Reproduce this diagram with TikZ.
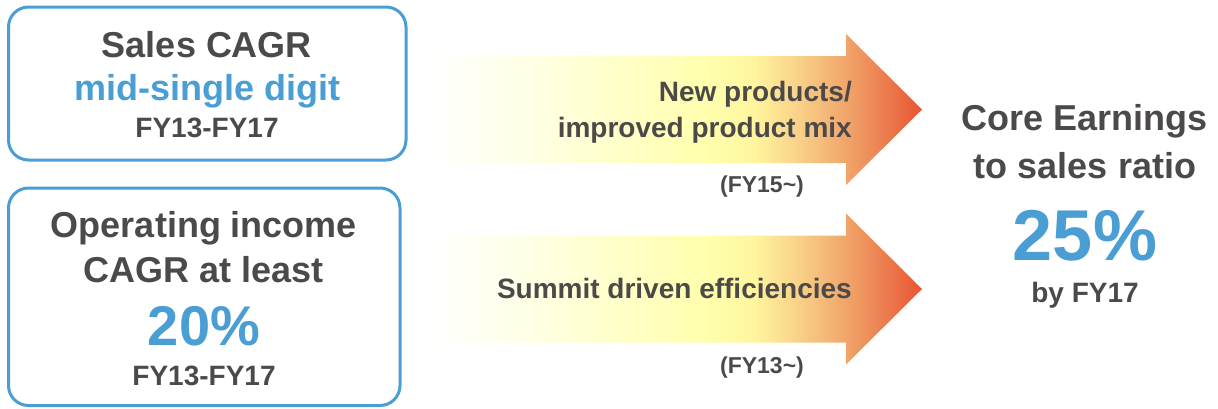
\documentclass[tikz,border=0pt]{standalone}
\usepackage{fontspec}
\setmainfont{Liberation Sans}
\usetikzlibrary{positioning}
\definecolor{txtgray}{RGB}{76,73,73}
\definecolor{kpiblue}{RGB}{75,158,211}
\pgfdeclarehorizontalshading{growth}{100bp}{rgb(0bp)=(1,1,1); rgb(25bp)=(1,1,1); rgb(35bp)=(1,1,0.9); rgb(53bp)=(1,1,0.68); rgb(58bp)=(1,0.96,0.62); rgb(63bp)=(0.97,0.80,0.52); rgb(68bp)=(0.94,0.62,0.40); rgb(75bp)=(0.91,0.33,0.20); rgb(100bp)=(0.91,0.33,0.20)}

\begin{document}
\begin{tikzpicture}[
    x=1pt, y=-1pt,
    goalbox/.style={draw=kpiblue, line width=3pt, rounded corners=20pt},
    growarrow/.style={shading=growth, draw=none},
    txt/.style={text=txtgray, font=\bfseries\fontsize{#1}{#1}\selectfont, inner sep=0pt, anchor=base},
    txt/.default=36,
    kpi/.style={text=kpiblue, font=\bfseries\fontsize{#1}{#1}\selectfont, inner sep=0pt, anchor=base},
    kpi/.default=36
    ]
\useasboundingbox (0,0) rectangle (1218,408);

% target boxes
\draw[goalbox] (8.5,7) rectangle (406,160);
\draw[goalbox] (8.5,188) rectangle (400,405.5);

\node[txt] (sales) at (207,57) {Sales CAGR};
\node[kpi] (salesrate) at (207,100) {mid-single digit};
\node[txt=28] (salesfy) at (207,137) {FY13-FY17};

\node[txt] (opinc) at (204,237) {Operating income};
\node[txt] (opcagr) at (204,282) {CAGR at least};
\node[kpi=56] (oprate) at (204,345) {20\%};
\node[txt=28] (opfy) at (204,385) {FY13-FY17};

% drivers
\foreach \yc in {109.5,289}{
  \begin{scope}
    \clip (430,\yc-53.5) -- (846,\yc-53.5) -- (846,\yc-75.5) -- (922,\yc) -- (846,\yc+75.5) -- (846,\yc+53.5) -- (430,\yc+53.5) -- cycle;
    \shade[growarrow] (430,\yc-80) rectangle (922,\yc+80);
  \end{scope}
}

\node[txt=28, anchor=base east] (newprod) at (852,101) {New products/};
\node[txt=28, anchor=base east] (prodmix) at (852,137) {improved product mix};
\node[txt=23] (fy15) at (762,192) {(FY15\textasciitilde)};

\node[txt=28, anchor=base east] (summit) at (852,298) {Summit driven efficiencies};
\node[txt=23] (fy13) at (762,373) {(FY13\textasciitilde)};

% result
\node[txt] (core) at (1085,130) {Core Earnings};
\node[txt] (ratio) at (1085,178) {to sales ratio};
\node[kpi=72] (corerate) at (1085,260) {25\%};
\node[txt=28] (byfy) at (1085,302) {by FY17};

\end{tikzpicture}
\end{document}
